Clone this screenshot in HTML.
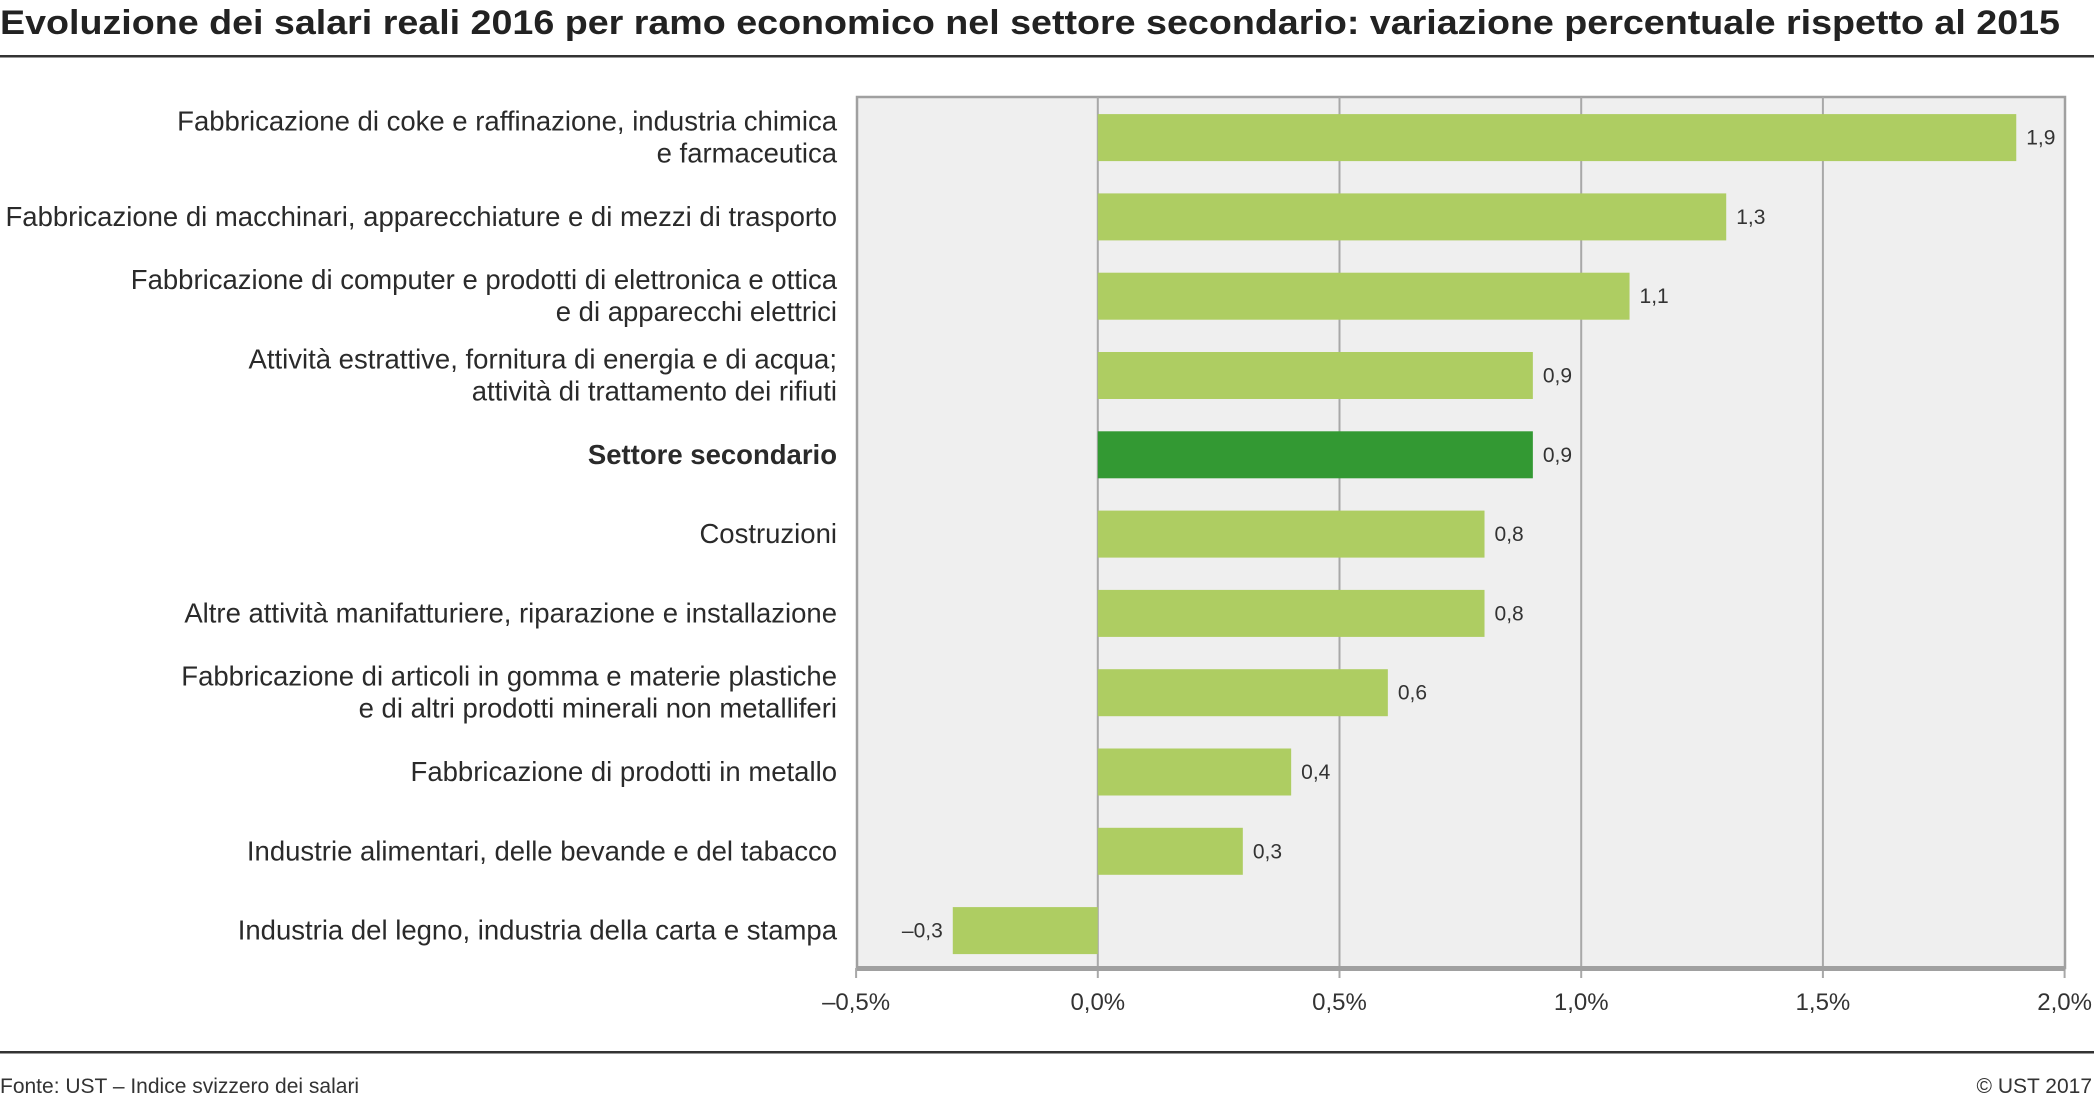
<!DOCTYPE html>
<html><head><meta charset="utf-8"><style>
html,body{margin:0;padding:0;background:#fff;width:2094px;height:1100px;overflow:hidden}
svg{display:block;font-family:"Liberation Sans",sans-serif}
</style></head><body>
<svg id="chart" width="2094" height="1100" xmlns="http://www.w3.org/2000/svg">
<text x="0" y="34" font-size="34" font-weight="bold" fill="#222" textLength="2060" lengthAdjust="spacingAndGlyphs">Evoluzione dei salari reali 2016 per ramo economico nel settore secondario: variazione percentuale rispetto al 2015</text>
<rect x="0" y="55" width="2094" height="2.5" fill="#333"/>
<rect x="857" y="97" width="1208" height="871" fill="#efefef" stroke="#a0a0a0" stroke-width="2.5"/>
<g id="grid"></g><g id="bars"></g><g id="labels"></g>
<rect x="857" y="966" width="1208" height="5" fill="#a0a0a0"/>
<rect x="0" y="1051" width="2094" height="2.5" fill="#333"/>
<text x="0" y="1093" font-size="21" fill="#333">Fonte: UST – Indice svizzero dei salari</text>
<text x="2092" y="1093" font-size="21" fill="#333" text-anchor="end">© UST 2017</text>
</svg>
<script>
const categories=[["Fabbricazione di coke e raffinazione, industria chimica","e farmaceutica"],["Fabbricazione di macchinari, apparecchiature e di mezzi di trasporto"],["Fabbricazione di computer e prodotti di elettronica e ottica","e di apparecchi elettrici"],["Attività estrattive, fornitura di energia e di acqua;","attività di trattamento dei rifiuti"],["Settore secondario"],["Costruzioni"],["Altre attività manifatturiere, riparazione e installazione"],["Fabbricazione di articoli in gomma e materie plastiche","e di altri prodotti minerali non metalliferi"],["Fabbricazione di prodotti in metallo"],["Industrie alimentari, delle bevande e del tabacco"],["Industria  del legno, industria  della carta e stampa"]];
const values=[1.9,1.3,1.1,0.9,0.9,0.8,0.8,0.6,0.4,0.3,-0.3];
const valueLabels=["1,9","1,3","1,1","0,9","0,9","0,8","0,8","0,6","0,4","0,3","–0,3"];
const highlight=[false,false,false,false,true,false,false,false,false,false,false];
const ticks=[-0.5,0,0.5,1,1.5,2];
const tickLabels=["–0,5%","0,0%","0,5%","1,0%","1,5%","2,0%"];
const NS="http://www.w3.org/2000/svg";
const xs=v=>1097.8+v*483.4;
const ys=i=>137.6+i*79.3;
function mk(t,a,p){const e=document.createElementNS(NS,t);for(const k in a)e.setAttribute(k,a[k]);p.appendChild(e);return e;}
const g=document.getElementById('grid'),b=document.getElementById('bars'),l=document.getElementById('labels');
ticks.forEach((t,i)=>{
 if(i>0&&i<ticks.length-1){const ln=mk('line',{x1:xs(t),x2:xs(t),y1:97,y2:968,stroke:'#a8a8a8','stroke-width':2},g);
 
 }
 const tk=mk('line',{x1:xs(t),x2:xs(t),y1:968,y2:978,stroke:'#a8a8a8','stroke-width':2},g);
 
 
 const tx=mk('text',{x:xs(t),y:1010,'font-size':24,fill:'#333','text-anchor':'middle'},g);
 tx.textContent=tickLabels[i];
 
 
});
values.forEach((v,i)=>{
 const y=ys(i),x0=xs(0),x1=xs(v);
 const r=mk('rect',{x:Math.min(x0,x1),y:y-23.5,width:Math.abs(x1-x0),height:47,fill:highlight[i]?'#339933':'#aecd62'},b);
 
 
 const vt=mk('text',{x:v>=0?x1+10:x1-10,y:y+7,'font-size':21,fill:'#333','text-anchor':v>=0?'start':'end'},l);
 vt.textContent=valueLabels[i];
 
 
 const lines=categories[i];
 lines.forEach((s,j)=>{
  const cy=y+9+(j-(lines.length-1)/2)*32;
  const ct=mk('text',{x:837,y:cy,'font-size':27.5,fill:'#2a2a2a','text-anchor':'end','font-weight':highlight[i]?'bold':'normal'},l);
  ct.textContent=s;
  
  
 });
});
</script>
</body></html>
